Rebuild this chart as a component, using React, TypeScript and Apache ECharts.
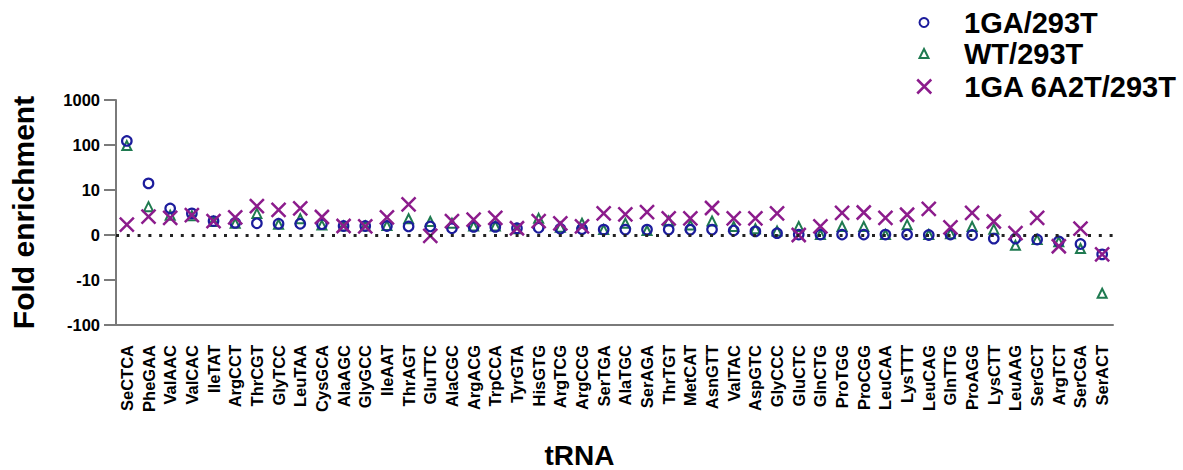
import React, { useEffect, useRef } from "react";
import * as echarts from "echarts";

const categories = [
  "SeCTCA", "PheGAA", "ValAAC", "ValCAC", "IleTAT", "ArgCCT", "ThrCGT", "GlyTCC",
  "LeuTAA", "CysGCA", "AlaAGC", "GlyGCC", "IleAAT", "ThrAGT", "GluTTC", "AlaCGC",
  "ArgACG", "TrpCCA", "TyrGTA", "HisGTG", "ArgTCG", "ArgCCG", "SerTGA", "AlaTGC",
  "SerAGA", "ThrTGT", "MetCAT", "AsnGTT", "ValTAC", "AspGTC", "GlyCCC", "GluCTC",
  "GlnCTG", "ProTGG", "ProCGG", "LeuCAA", "LysTTT", "LeuCAG", "GlnTTG", "ProAGG",
  "LysCTT", "LeuAAG", "SerGCT", "ArgTCT", "SerCGA", "SerACT",
];

const ga1 = [
  123, 14, 5.9, 4.8, 3.1, 2.7, 2.6, 2.5, 2.5, 2.4, 2.0, 2.0, 2.0, 1.9, 1.9, 1.5,
  1.8, 1.8, 1.5, 1.6, 1.4, 1.3, 1.2, 1.2, 1.2, 1.2, 1.2, 1.2, 1.0, 0.8, 0.4, 0.1,
  0.1, 0.1, 0.1, 0.1, 0.1, 0.0, 0.1, 0.0, -0.8, -0.8, -1.0, -1.4, -2.0, -4.3,
];

const wt = [
  97, 6.3, 4.4, 4.3, 3.0, 2.6, 4.8, 2.4, 3.6, 2.2, 2.0, 2.0, 2.1, 3.6, 3.0, 2.6,
  2.0, 2.0, 1.4, 3.7, 1.7, 2.6, 1.2, 2.6, 1.0, 3.1, 2.2, 3.1, 1.9, 1.4, 0.9, 1.9,
  0.1, 1.9, 1.9, 0.1, 2.3, 0.1, 0.3, 1.9, 1.3, -2.3, -1.0, -1.5, -3.0, -19.7,
];

const ga6a2t = [
  2.3, 4.1, 3.8, 4.4, 3.1, 3.9, 6.4, 5.6, 5.9, 4.0, 2.0, 1.9, 3.9, 6.8, -0.2, 3.1,
  3.4, 3.8, 1.5, 3.1, 2.6, 1.9, 4.8, 4.6, 5.1, 3.7, 3.7, 6.0, 3.7, 3.7, 4.8, 0.0,
  1.9, 4.9, 5.0, 3.8, 4.5, 5.8, 1.7, 4.9, 3.0, 0.4, 3.8, -2.5, 1.4, -4.3,
];

const yTickValues = [-100, -10, 0, 10, 100, 1000];
const seriesNames = ["1GA/293T", "WT/293T", "1GA 6A2T/293T"];

// Segmented axis: linear between -10 and 10, log10 beyond
const toAxis = (v: number) =>
  Math.abs(v) <= 10 ? v / 10 : Math.sign(v) * Math.log10(Math.abs(v));

const FONT = "'Liberation Sans', Arial, Helvetica, sans-serif";
const BLUE = "#1c1c9c";
const GREEN = "#1f7a50";
const PURPLE = "#8c1c8c";
const XPATH = "path://M0,0L10,10M10,0L0,10";

export default function App() {
  const ref = useRef<HTMLDivElement>(null);

  useEffect(() => {
    if (!ref.current) return;
    const chart = echarts.init(ref.current, null, { renderer: "svg" });

    const legendText = { fontSize: 29, fontWeight: "bold", color: "#000", fontFamily: FONT };
    const legendCommon = { orient: "vertical" as const, selectedMode: false, padding: 0 };

    chart.setOption({
      animation: false,
      backgroundColor: "#fff",
      grid: { left: 113, right: 70, top: 100, bottom: 143 },
      legend: [
        {
          ...legendCommon,
          left: 918.5,
          top: 8,
          itemWidth: 9,
          itemHeight: 9,
          data: [{ name: seriesNames[0], icon: "circle", itemStyle: { color: "rgba(0,0,0,0)", borderColor: BLUE, borderWidth: 2 } }],
          textStyle: { ...legendText, padding: [0, 0, 0, 30.5] },
        },
        {
          ...legendCommon,
          left: 918.5,
          top: 39,
          itemWidth: 9,
          itemHeight: 9,
          data: [{ name: seriesNames[1], icon: "triangle", itemStyle: { color: "rgba(0,0,0,0)", borderColor: GREEN, borderWidth: 2 } }],
          textStyle: { ...legendText, padding: [0, 0, 0, 30.5] },
        },
        {
          ...legendCommon,
          left: 916,
          top: 72,
          itemWidth: 14,
          itemHeight: 14,
          data: [{ name: seriesNames[2], icon: XPATH, itemStyle: { color: "rgba(0,0,0,0)", borderColor: PURPLE, borderWidth: 2.5 } }],
          textStyle: { ...legendText, padding: [0, 0, 0, 28] },
        },
      ],
      xAxis: {
        type: "category",
        data: categories,
        boundaryGap: true,
        name: "tRNA",
        nameLocation: "middle",
        nameGap: 116,
        nameTextStyle: { fontSize: 28, fontWeight: "bold", color: "#000", fontFamily: FONT, padding: [0, 70, 0, 0] },
        axisLine: { onZero: false, lineStyle: { color: "#7a7a7a", width: 2 } },
        axisTick: { alignWithLabel: true, length: 13, lineStyle: { color: "#7a7a7a", width: 2 } },
        axisLabel: { interval: 0, rotate: 90, margin: 20, fontSize: 16.5, fontWeight: "bold", color: "#000", fontFamily: FONT },
        splitLine: { show: false },
      },
      yAxis: {
        type: "value",
        min: -2,
        max: 3,
        interval: 1,
        name: "Fold enrichment",
        nameLocation: "middle",
        nameGap: 78,
        nameTextStyle: { fontSize: 30, fontWeight: "bold", color: "#000", fontFamily: FONT },
        axisLine: { show: true, lineStyle: { color: "#7a7a7a", width: 2 } },
        axisTick: { show: true, length: 12, lineStyle: { color: "#7a7a7a", width: 2 } },
        axisLabel: {
          margin: 16,
          fontSize: 16.5,
          fontWeight: "bold",
          color: "#000",
          fontFamily: FONT,
          formatter: (val: number) => {
            const t = yTickValues.find((v) => Math.abs(toAxis(v) - val) < 1e-6);
            return t === undefined ? "" : String(t);
          },
        },
        splitLine: { show: false },
      },
      series: [
        {
          name: seriesNames[1],
          type: "scatter",
          symbol: "triangle",
          symbolSize: 9,
          itemStyle: { color: "rgba(0,0,0,0)", borderColor: GREEN, borderWidth: 2, opacity: 1 },
          data: wt.map(toAxis),
          z: 2,
          markLine: {
            silent: true,
            symbol: ["none", "none"],
            label: { show: false },
            lineStyle: { color: "#222", width: 3, type: [3, 7.8] },
            data: [{ yAxis: 0 }],
          },
        },
        {
          name: seriesNames[0],
          type: "scatter",
          symbol: "circle",
          symbolSize: 9.5,
          itemStyle: { color: "rgba(0,0,0,0)", borderColor: BLUE, borderWidth: 2.2, opacity: 1 },
          data: ga1.map(toAxis),
          z: 3,
        },
        {
          name: seriesNames[2],
          type: "scatter",
          symbol: XPATH,
          symbolSize: 14,
          itemStyle: { color: "rgba(0,0,0,0)", borderColor: PURPLE, borderWidth: 2.5, opacity: 1 },
          data: ga6a2t.map(toAxis),
          z: 4,
        },
      ],
    });

    return () => chart.dispose();
  }, []);

  return (
    <div
      ref={ref}
      style={{ position: "fixed", left: 0, top: 0, width: 1183, height: 470, background: "#fff" }}
    />
  );
}
